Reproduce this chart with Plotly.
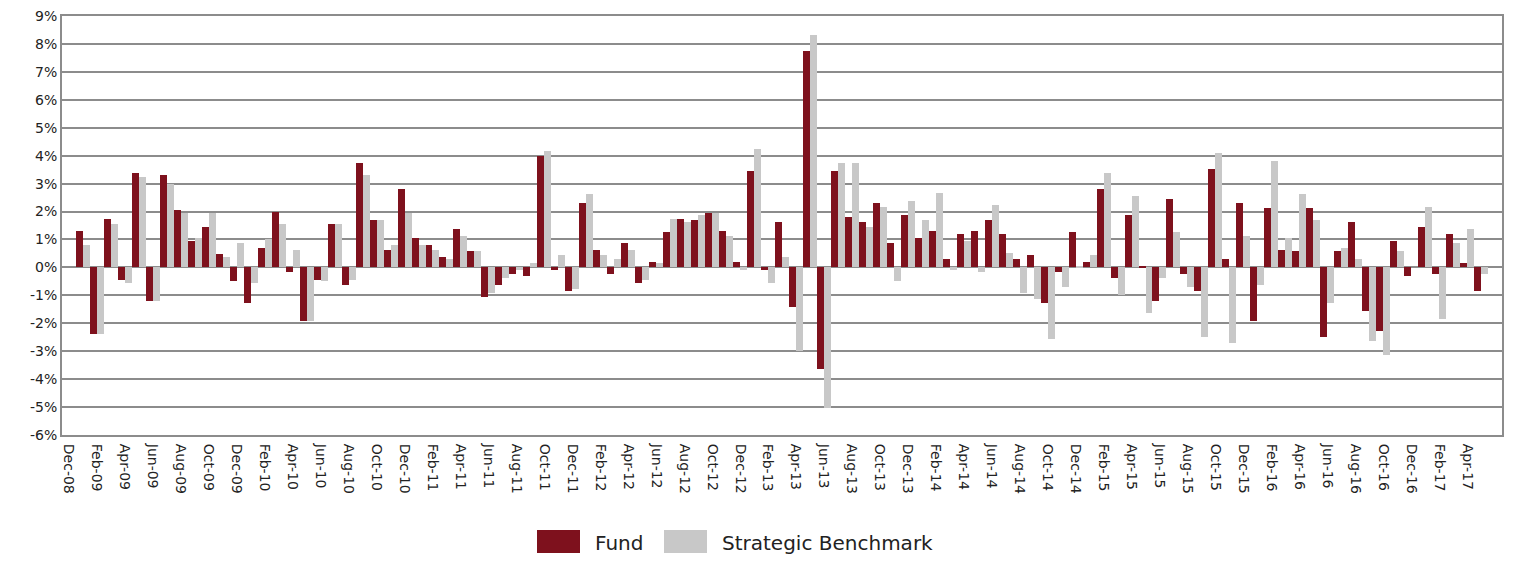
import plotly.graph_objects as go

months = ["Dec-08",
          "Jan-09","Feb-09","Mar-09","Apr-09","May-09","Jun-09","Jul-09","Aug-09","Sep-09","Oct-09","Nov-09","Dec-09",
          "Jan-10","Feb-10","Mar-10","Apr-10","May-10","Jun-10","Jul-10","Aug-10","Sep-10","Oct-10","Nov-10","Dec-10",
          "Jan-11","Feb-11","Mar-11","Apr-11","May-11","Jun-11","Jul-11","Aug-11","Sep-11","Oct-11","Nov-11","Dec-11",
          "Jan-12","Feb-12","Mar-12","Apr-12","May-12","Jun-12","Jul-12","Aug-12","Sep-12","Oct-12","Nov-12","Dec-12",
          "Jan-13","Feb-13","Mar-13","Apr-13","May-13","Jun-13","Jul-13","Aug-13","Sep-13","Oct-13","Nov-13","Dec-13",
          "Jan-14","Feb-14","Mar-14","Apr-14","May-14","Jun-14","Jul-14","Aug-14","Sep-14","Oct-14","Nov-14","Dec-14",
          "Jan-15","Feb-15","Mar-15","Apr-15","May-15","Jun-15","Jul-15","Aug-15","Sep-15","Oct-15","Nov-15","Dec-15",
          "Jan-16","Feb-16","Mar-16","Apr-16","May-16","Jun-16","Jul-16","Aug-16","Sep-16","Oct-16","Nov-16","Dec-16",
          "Jan-17","Feb-17","Mar-17","Apr-17","May-17","Jun-17"]

fund = [None,
        1.32, -2.40, 1.75, -0.44, 3.39, -1.20, 3.32, 2.04, 0.94, 1.46, 0.49, -0.49,
        -1.27, 0.71, 1.98, -0.17, -1.92, -0.44, 1.54, -0.63, 3.75, 1.68, 0.64, 2.82,
        1.07, 0.79, 0.36, 1.39, 0.57, -1.06, -0.63, -0.24, -0.31, 3.98, -0.10, -0.85,
        2.32, 0.64, -0.24, 0.86, -0.56, 0.21, 1.25, 1.75, 1.68, 1.96, 1.32, 0.21,
        3.46, -0.10, 1.61, -1.42, 7.75, -3.64, 3.46, 1.82, 1.61, 2.32, 0.86, 1.89,
        1.07, 1.32, 0.29, 1.21, 1.32, 1.68, 1.21, 0.29, 0.43, -1.27, -0.17, 1.25,
        0.21, 2.82, -0.38, 1.89, 0.03, -1.20, 2.46, -0.24, -0.85, 3.54, 0.29, 2.32,
        -1.92, 2.11, 0.64, 0.57, 2.11, -2.49, 0.57, 1.61, -1.56, -2.27, 0.93, -0.31,
        1.46, -0.24, 1.21, 0.14, -0.85, None]

benchmark = [None,
             0.79, -2.40, 1.54, -0.56, 3.25, -1.20, 2.98, 1.96, 1.07, 1.96, 0.36, 0.86,
             -0.56, 1.00, 1.54, 0.64, -1.92, -0.49, 1.54, -0.44, 3.32, 1.68, 0.79, 1.96,
             0.79, 0.64, 0.29, 1.14, 0.57, -0.92, -0.38, -0.10, 0.14, 4.18, 0.43, -0.77,
             2.61, 0.43, 0.29, 0.64, -0.44, 0.14, 1.75, 1.61, 1.89, 1.96, 1.14, -0.10,
             4.25, -0.56, 0.36, -3.00, 8.32, -5.05, 3.75, 3.75, 1.46, 2.18, -0.49, 2.39,
             1.68, 2.68, -0.10, 0.96, -0.17, 2.25, 0.50, -0.92, -1.13, -2.56, -0.70, 0.02,
             0.43, 3.39, -0.99, 2.54, -1.63, -0.38, 1.25, -0.70, -2.49, 4.11, -2.70, 1.14,
             -0.63, 3.82, 1.07, 2.61, 1.68, -1.27, 0.71, 0.29, -2.63, -3.14, 0.57, 0.00,
             2.18, -1.85, 0.86, 1.39, -0.24, None]

series_names = ["Fund", "Strategic Benchmark"]
series_colors = ["#7E111D", "#C8C8C8"]

tick_labels = months[0:101:2]
y_ticks = list(range(-6, 10))

fig = go.Figure()
for name, vals, col in zip(series_names, [fund, benchmark], series_colors):
    fig.add_trace(go.Bar(x=months, y=vals, name=name, showlegend=False,
                         marker=dict(color=col, line=dict(width=0))))

# legend drawn as swatches + text below the plot (plot area: 62..1502 px wide, 16..435 px tall)
W, H, X0, Y0 = 1440.0, 419.0, 62.0, 435.0
def px(x):
    return (x - X0) / W
def py(y):
    return (Y0 - y) / H

legend_items = [(537, 580, 593), (664, 707, 720)]
shapes = []
annotations = []
for (sx0, sx1, tx), name, col in zip(legend_items, series_names, series_colors):
    shapes.append(dict(type="rect", xref="paper", yref="paper",
                       x0=px(sx0), x1=px(sx1), y0=py(553), y1=py(530),
                       fillcolor=col, line=dict(width=0)))
    annotations.append(dict(xref="paper", yref="paper", x=px(tx), y=py(543),
                            xanchor="left", yanchor="middle", showarrow=False,
                            text=name, font=dict(size=20, color="#222222")))

# page body has an 8px default margin, so margins are offset by 8px
fig.update_layout(
    width=1514, height=562,
    barmode="group", bargap=0.0, bargroupgap=0.0,
    plot_bgcolor="white", paper_bgcolor="white",
    margin=dict(l=54, r=20, t=8, b=135, autoexpand=False),
    font=dict(family="DejaVu Sans, Verdana, sans-serif", color="#222222"),
    showlegend=False,
    shapes=shapes, annotations=annotations,
)
fig.update_xaxes(
    type="category", categoryorder="array", categoryarray=months,
    range=[-0.5, len(months) - 0.5], automargin=False, ticklabeloverflow="allow",
    tickmode="array", tickvals=tick_labels, ticktext=tick_labels,
    tickangle=90, tickfont=dict(size=14), ticks="outside", ticklen=4, tickcolor="white",
    showgrid=False, showline=True, linecolor="#8C8C8C", linewidth=2, mirror=True,
)
fig.update_yaxes(
    range=[-6, 9], tickmode="array", tickvals=y_ticks, automargin=False,
    ticklabeloverflow="allow",
    ticktext=[f"{v}%" for v in y_ticks], tickfont=dict(size=14),
    showgrid=True, gridcolor="#8C8C8C", gridwidth=2,
    zeroline=False, showline=True, linecolor="#8C8C8C", linewidth=2, mirror=True,
    ticks="", ticklen=0,
)

fig.write_html("out.html")
